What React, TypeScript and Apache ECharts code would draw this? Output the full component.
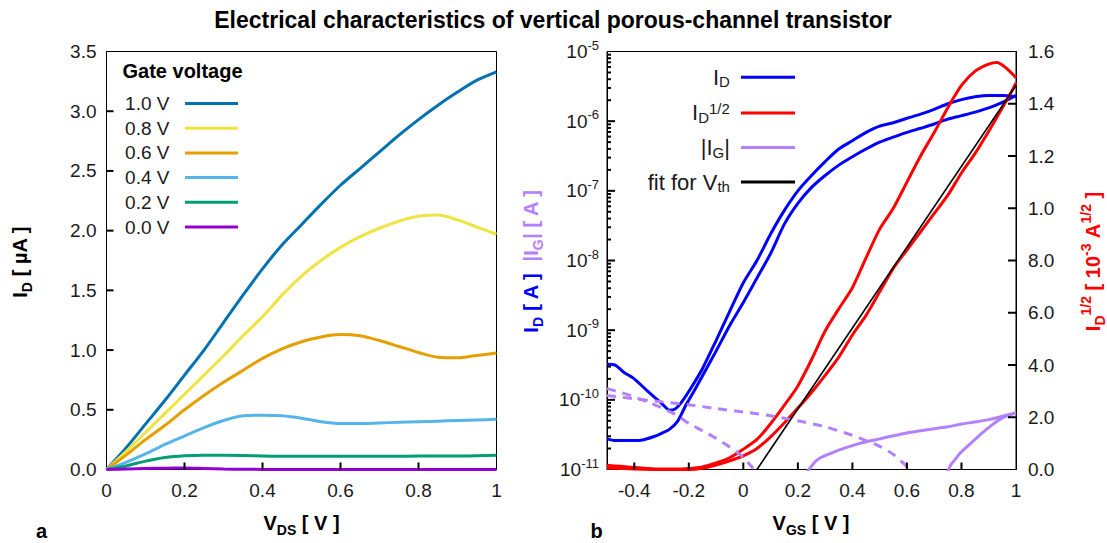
import React, { useEffect, useRef } from 'react';
import * as echarts from 'echarts';

const FONT = '"Liberation Sans", Arial, Helvetica, sans-serif';
const TXT = '#1a1a1a';

// ---------- Panel a : output characteristics ----------
const vdsValues = [0, 0.05, 0.1, 0.15, 0.2, 0.25, 0.3, 0.35, 0.4, 0.45, 0.5, 0.55, 0.6, 0.65, 0.7, 0.75, 0.8, 0.85, 0.9, 0.95, 1.0];
const gateLabels = ['1.0 V', '0.8 V', '0.6 V', '0.4 V', '0.2 V', '0.0 V'];
const gateColors = ['#0072b2', '#f0e442', '#e69f00', '#56b4e9', '#009e73', '#9400d3'];
const idVg10 = [0, 0.18, 0.38, 0.58, 0.79, 1.0, 1.23, 1.46, 1.68, 1.88, 2.05, 2.22, 2.38, 2.52, 2.66, 2.8, 2.93, 3.05, 3.16, 3.26, 3.33];
const idVg08 = [0, 0.15, 0.31, 0.47, 0.63, 0.79, 0.95, 1.12, 1.28, 1.46, 1.62, 1.75, 1.86, 1.95, 2.02, 2.08, 2.12, 2.13, 2.09, 2.03, 1.97];
const idVg06 = [0, 0.12, 0.25, 0.37, 0.5, 0.62, 0.73, 0.83, 0.93, 1.01, 1.07, 1.11, 1.13, 1.12, 1.08, 1.03, 0.98, 0.94, 0.935, 0.955, 0.975];
const idVg04 = [0, 0.06, 0.13, 0.21, 0.28, 0.35, 0.41, 0.45, 0.455, 0.45, 0.43, 0.4, 0.385, 0.385, 0.39, 0.395, 0.4, 0.405, 0.41, 0.415, 0.42];
const idVg02 = [0, 0.03, 0.07, 0.1, 0.115, 0.12, 0.12, 0.118, 0.113, 0.11, 0.11, 0.11, 0.11, 0.11, 0.11, 0.11, 0.112, 0.112, 0.112, 0.115, 0.12];
const idVg00 = [0, 0.004, 0.008, 0.011, 0.012, 0.008, 0.004, 0.002, 0.001, 0, 0, 0, 0, 0, 0, 0, 0, 0, 0, 0, 0];
const gateCurves = [idVg10, idVg08, idVg06, idVg04, idVg02, idVg00];
const leftXTicks = [0, 0.2, 0.4, 0.6, 0.8, 1];
const leftXTickLabels = ['0', '0.2', '0.4', '0.6', '0.8', '1'];
const leftYTicks = [0, 0.5, 1, 1.5, 2, 2.5, 3, 3.5];
const leftYTickLabels = ['0.0', '0.5', '1.0', '1.5', '2.0', '2.5', '3.0', '3.5'];

// ---------- Panel b : transfer characteristics ----------
const vgsFwd = [-0.5, -0.47, -0.43, -0.4, -0.37, -0.33, -0.3, -0.27, -0.24, -0.21, -0.18, -0.15, -0.1, -0.05, 0, 0.05, 0.1, 0.15, 0.2, 0.25, 0.3, 0.35, 0.4, 0.45, 0.5, 0.55, 0.6, 0.65, 0.7, 0.75, 0.8, 0.85, 0.9, 0.95, 1.0];
const idFwd = [2.75e-11, 2.6e-11, 2.6e-11, 2.6e-11, 2.65e-11, 2.95e-11, 3.3e-11, 3.8e-11, 5.0e-11, 8.5e-11, 1.35e-10, 2.2e-10, 5.0e-10, 1.17e-9, 2.5e-9, 5.6e-9, 1.26e-8, 3.3e-8, 6.6e-8, 1.12e-7, 1.66e-7, 2.34e-7, 3.09e-7, 3.98e-7, 5.0e-7, 5.9e-7, 6.9e-7, 7.9e-7, 9.1e-7, 1.07e-6, 1.2e-6, 1.35e-6, 1.55e-6, 1.86e-6, 2.34e-6];
const vgsRev = [-0.5, -0.47, -0.44, -0.4, -0.35, -0.3, -0.27, -0.25, -0.23, -0.2, -0.15, -0.1, -0.05, 0, 0.05, 0.1, 0.15, 0.2, 0.25, 0.3, 0.35, 0.4, 0.45, 0.5, 0.55, 0.6, 0.65, 0.7, 0.75, 0.8, 0.85, 0.9, 0.95, 1.0];
const idRev = [3.24e-10, 3.16e-10, 2.51e-10, 2.0e-10, 1.32e-10, 8.9e-11, 7.1e-11, 7.4e-11, 8.9e-11, 1.32e-10, 2.8e-10, 7.1e-10, 1.86e-9, 4.8e-9, 1.0e-8, 2.4e-8, 5.2e-8, 1.0e-7, 1.66e-7, 2.63e-7, 3.98e-7, 5.25e-7, 6.9e-7, 8.5e-7, 9.5e-7, 1.1e-6, 1.26e-6, 1.48e-6, 1.78e-6, 2.04e-6, 2.24e-6, 2.34e-6, 2.34e-6, 2.24e-6];

const vgsSqrtRev = [-0.5, -0.45, -0.4, -0.35, -0.3, -0.25, -0.2, -0.15, -0.1, -0.05, 0, 0.05, 0.1, 0.15, 0.2, 0.25, 0.3, 0.35, 0.4, 0.45, 0.5, 0.55, 0.6, 0.65, 0.7, 0.75, 0.8, 0.85, 0.9, 0.93, 0.96, 1.0];
const sqrtRev = [0.016, 0.012, 0.008, 0.004, 0.002, 0.002, 0.004, 0.01, 0.025, 0.045, 0.078, 0.115, 0.175, 0.245, 0.32, 0.42, 0.53, 0.615, 0.696, 0.81, 0.92, 1.0, 1.1, 1.2, 1.29, 1.385, 1.47, 1.525, 1.552, 1.558, 1.54, 1.5];
const vgsSqrtFwd = [-0.5, -0.45, -0.4, -0.3, -0.2, -0.15, -0.1, -0.05, 0, 0.05, 0.1, 0.15, 0.2, 0.25, 0.3, 0.35, 0.4, 0.45, 0.5, 0.55, 0.6, 0.65, 0.7, 0.75, 0.8, 0.85, 0.9, 0.95, 0.98, 1.0];
const sqrtFwd = [0.006, 0.004, 0.002, 0, 0, 0.005, 0.017, 0.033, 0.052, 0.08, 0.125, 0.178, 0.235, 0.295, 0.36, 0.43, 0.515, 0.59, 0.68, 0.77, 0.84, 0.91, 0.98, 1.05, 1.135, 1.21, 1.295, 1.385, 1.44, 1.48];

const fitV = [0.05, 1.0];
const fitSqrt = [0, 1.47];

const igRiseAV = [0.232, 0.26, 0.28, 0.32, 0.35, 0.4, 0.45, 0.5, 0.55, 0.6, 0.65, 0.7, 0.75, 0.8, 0.85, 0.9, 0.95, 1.0];
const igRiseA = [9e-12, 1.25e-11, 1.45e-11, 1.7e-11, 1.9e-11, 2.2e-11, 2.5e-11, 2.75e-11, 3.05e-11, 3.35e-11, 3.6e-11, 3.85e-11, 4.1e-11, 4.5e-11, 4.8e-11, 5.2e-11, 5.8e-11, 6.5e-11];
const igRiseBV = [0.748, 0.76, 0.78, 0.8, 0.83, 0.87, 0.91, 0.95, 1.0];
const igRiseB = [9e-12, 1.15e-11, 1.45e-11, 1.8e-11, 2.3e-11, 3.2e-11, 4.3e-11, 5.5e-11, 6.5e-11];
const igFallAV = [-0.5, -0.45, -0.4, -0.35, -0.3, -0.25, -0.2, -0.15, -0.1, -0.05, 0, 0.03, 0.05];
const igFallA = [1.45e-10, 1.28e-10, 1.1e-10, 9.3e-11, 7.7e-11, 6.2e-11, 4.6e-11, 3.6e-11, 2.8e-11, 2.1e-11, 1.5e-11, 1.1e-11, 9e-12];
const igFallBV = [-0.5, -0.4, -0.3, -0.2, -0.1, 0, 0.1, 0.2, 0.3, 0.4, 0.45, 0.5, 0.55, 0.6, 0.62];
const igFallB = [1.15e-10, 1.04e-10, 9.4e-11, 8.5e-11, 7.5e-11, 6.7e-11, 5.9e-11, 5.0e-11, 4.1e-11, 3.1e-11, 2.6e-11, 2.15e-11, 1.65e-11, 1.1e-11, 9e-12];

const rightXTicks = [-0.4, -0.2, 0, 0.2, 0.4, 0.6, 0.8, 1];
const rightXTickLabels = ['-0.4', '-0.2', '0', '0.2', '0.4', '0.6', '0.8', '1'];
const decadeTicks = [1e-11, 1e-10, 1e-9, 1e-8, 1e-7, 1e-6, 1e-5];
const decadeExponents = ['-11', '-10', '-9', '-8', '-7', '-6', '-5'];
const sqrtTicks = [0, 0.2, 0.4, 0.6, 0.8, 1.0, 1.2, 1.4, 1.6];
const sqrtTickLabels = ['0.0', '2.0', '4.0', '6.0', '8.0', '1.0', '1.2', '1.4', '1.6'];

const minorTicks: number[] = [];
for (let k = 0; k < decadeTicks.length - 1; k++) {
  for (let m = 2; m <= 9; m++) minorTicks.push(m * decadeTicks[k]);
}

const BLUE = '#0000ff';
const RED = '#ff0000';
const LAV = '#b380ff';

const pairs = (xs: number[], ys: number[]) => xs.map((x, i) => [x, ys[i]]);
const nearestIdx = (arr: number[], v: number) => {
  let best = 0;
  arr.forEach((t, i) => { if (Math.abs(t - v) < Math.abs(arr[best] - v)) best = i; });
  return best;
};

const axisLineStyle = { show: true, onZero: false, lineStyle: { color: '#000', width: 1 } };
const noTick = { show: false };

const legendRich = {
  t: { fontSize: 22, lineHeight: 24, color: TXT, fontFamily: FONT },
  sb: { fontSize: 15, lineHeight: 13, verticalAlign: 'bottom', color: TXT, fontFamily: FONT },
  sp: { fontSize: 15, lineHeight: 13, verticalAlign: 'top', color: TXT, fontFamily: FONT },
};
const legendNames: Record<string, string> = {
  ID: '{t|I}{sb|D}{t| }',
  ID12: '{t|I}{sb|D}{sp|1/2}{t| }',
  IG: '{t||I}{sb|G}{t|| }',
  fit: '{t|fit for V}{sb|th}{t| }',
};

// graphic (zrender) text uses `fill`
const boldRich = (fill: string) => ({
  b: { fontSize: 20, fontWeight: 'bold', lineHeight: 28, fill, fontFamily: FONT },
  s: { fontSize: 14, fontWeight: 'bold', lineHeight: 14, verticalAlign: 'bottom', fill, fontFamily: FONT },
  p: { fontSize: 14, fontWeight: 'bold', lineHeight: 14, verticalAlign: 'top', fill, fontFamily: FONT },
});

// inward tick marks drawn through the axes' own coordinate system
function tickSeries(xAxisIndex: number, yAxisIndex: number, points: number[][], dx: number, dy: number) {
  return {
    type: 'custom',
    name: '__ticks',
    xAxisIndex,
    yAxisIndex,
    silent: true,
    clip: false,
    z: 5,
    data: points,
    renderItem: (_params: any, api: any) => {
      const p = api.coord([api.value(0), api.value(1)]);
      return {
        type: 'line',
        shape: { x1: p[0], y1: p[1], x2: p[0] + dx, y2: p[1] + dy },
        style: { stroke: '#000', lineWidth: 2 },
      };
    },
  };
}

function buildOption() {
  const leftSeries = gateCurves.map((ys, i) => ({
    name: gateLabels[i],
    type: 'line',
    xAxisIndex: 0,
    yAxisIndex: 0,
    data: pairs(vdsValues, ys),
    symbol: 'none',
    smooth: 0.3,
    lineStyle: { width: 3, color: gateColors[i] },
    itemStyle: { color: gateColors[i] },
  }));

  const rightLine = (name: string, xs: number[], ys: number[], color: string, yAxisIndex: number, extra: any = {}) => ({
    name,
    type: 'line',
    xAxisIndex: 1,
    yAxisIndex,
    data: pairs(xs, ys),
    symbol: 'none',
    smooth: 0.25,
    lineStyle: { width: 3, color, ...(extra.lineStyle || {}) },
    itemStyle: { color },
  });

  const rightSeries = [
    rightLine('ID', vgsFwd, idFwd, BLUE, 1),
    rightLine('ID', vgsRev, idRev, BLUE, 1),
    rightLine('ID12', vgsSqrtFwd, sqrtFwd, RED, 2),
    rightLine('ID12', vgsSqrtRev, sqrtRev, RED, 2),
    rightLine('IG', igRiseAV, igRiseA, LAV, 1),
    rightLine('IG', igRiseBV, igRiseB, LAV, 1),
    rightLine('IG', igFallAV, igFallA, LAV, 1, { lineStyle: { type: [9, 7] } }),
    rightLine('IG', igFallBV, igFallB, LAV, 1, { lineStyle: { type: [9, 7] } }),
    { ...rightLine('fit', fitV, fitSqrt, '#000', 2, { lineStyle: { width: 1.6 } }), smooth: false },
  ];

  const tickSeriesList = [
    tickSeries(0, 0, leftXTicks.slice(1, -1).map((v) => [v, 0]), 0, -7),
    tickSeries(0, 0, leftYTicks.slice(1, -1).map((v) => [0, v]), 7, 0),
    tickSeries(1, 1, rightXTicks.slice(0, -1).map((v) => [v, decadeTicks[0]]), 0, -7),
    tickSeries(1, 1, decadeTicks.slice(1, -1).map((v) => [-0.5, v]), 8, 0),
    tickSeries(1, 1, minorTicks.map((v) => [-0.5, v]), 4, 0),
    tickSeries(1, 2, sqrtTicks.slice(1, -1).map((v) => [1, v]), -8, 0),
  ];

  return {
    animation: false,
    backgroundColor: '#fff',
    textStyle: { fontFamily: FONT },
    grid: [
      { left: 106.5, top: 51.5, width: 390, height: 418, show: true, borderColor: '#000', borderWidth: 1, backgroundColor: 'transparent' },
      { left: 607, top: 51.5, width: 409, height: 418, show: true, borderColor: '#000', borderWidth: 1, backgroundColor: 'transparent' },
    ],
    xAxis: [
      {
        type: 'value', gridIndex: 0, min: 0, max: 1, interval: 0.2,
        axisLine: axisLineStyle,
        axisTick: noTick,
        axisLabel: { fontSize: 19, color: TXT, margin: 11, formatter: (v: number) => leftXTickLabels[nearestIdx(leftXTicks, v)] },
        splitLine: { show: false },
      },
      {
        type: 'value', gridIndex: 1, min: -0.5, max: 1,
        axisLine: axisLineStyle,
        axisTick: noTick,
        axisLabel: { fontSize: 19, color: TXT, margin: 11, customValues: rightXTicks, formatter: (v: number) => rightXTickLabels[nearestIdx(rightXTicks, v)] },
        splitLine: { show: false },
      },
    ],
    yAxis: [
      {
        type: 'value', gridIndex: 0, min: 0, max: 3.5, interval: 0.5,
        axisLine: axisLineStyle,
        axisTick: noTick,
        axisLabel: { fontSize: 19, color: TXT, margin: 10, formatter: (v: number) => leftYTickLabels[nearestIdx(leftYTicks, v)] },
        splitLine: { show: false },
      },
      {
        type: 'log', logBase: 10, gridIndex: 1, min: 1e-11, max: 1e-5, position: 'left',
        axisLine: axisLineStyle,
        axisTick: noTick,
        axisLabel: {
          margin: 8,
          customValues: decadeTicks,
          formatter: (v: number) => `{b|10}{s|${decadeExponents[nearestIdx(decadeTicks.map((d) => Math.log10(d)), Math.log10(v))]}}`,
          rich: {
            b: { fontSize: 19, lineHeight: 26, color: TXT, fontFamily: FONT },
            s: { fontSize: 13, lineHeight: 13, verticalAlign: 'top', color: TXT, fontFamily: FONT },
          },
        },
        splitLine: { show: false },
        minorTick: { show: false },
      },
      {
        type: 'value', gridIndex: 1, min: 0, max: 1.6, interval: 0.2, position: 'right',
        axisLine: axisLineStyle,
        axisTick: noTick,
        axisLabel: { fontSize: 19, color: TXT, margin: 12, formatter: (v: number) => sqrtTickLabels[nearestIdx(sqrtTicks, v)] },
        splitLine: { show: false },
      },
    ],
    legend: [
      {
        data: gateLabels,
        orient: 'vertical',
        align: 'right',
        right: 869,
        top: 93.5,
        padding: 0,
        itemWidth: 53,
        itemHeight: 3,
        itemGap: 4.7,
        icon: 'rect',
        formatter: (name: string) => name + '  ',
        textStyle: { fontSize: 19, lineHeight: 20, color: TXT, fontFamily: FONT },
      },
      {
        data: ['ID', 'ID12', 'IG', 'fit'],
        orient: 'vertical',
        align: 'right',
        right: 312,
        top: 66.3,
        padding: 0,
        itemWidth: 54,
        itemHeight: 3,
        itemGap: 11.6,
        icon: 'rect',
        formatter: (name: string) => legendNames[name],
        textStyle: { fontSize: 22, color: TXT, fontFamily: FONT, rich: legendRich },
      },
    ],
    graphic: [
      {
        type: 'text', x: 553, y: 20,
        style: { text: 'Electrical characteristics of vertical porous-channel transistor', fontSize: 23, fontWeight: 'bold', fontFamily: FONT, fill: '#000', align: 'center', verticalAlign: 'middle' },
      },
      {
        type: 'text', x: 122.5, y: 71,
        style: { text: 'Gate voltage', fontSize: 20, fontWeight: 'bold', fontFamily: FONT, fill: '#000', align: 'left', verticalAlign: 'middle' },
      },
      {
        type: 'text', x: 41.5, y: 531,
        style: { text: 'a', fontSize: 20, fontWeight: 'bold', fontFamily: FONT, fill: '#000', align: 'center', verticalAlign: 'middle' },
      },
      {
        type: 'text', x: 596.5, y: 531,
        style: { text: 'b', fontSize: 20, fontWeight: 'bold', fontFamily: FONT, fill: '#000', align: 'center', verticalAlign: 'middle' },
      },
      {
        type: 'text', x: 301.5, y: 522.5,
        style: { text: '{b|V}{s|DS}{b| [ V ]}', rich: boldRich('#000'), align: 'center', verticalAlign: 'middle' },
      },
      {
        type: 'text', x: 811, y: 522.5,
        style: { text: '{b|V}{s|GS}{b| [ V ]}', rich: boldRich('#000'), align: 'center', verticalAlign: 'middle' },
      },
      {
        type: 'text', x: 19.5, y: 262, rotation: Math.PI / 2,
        style: { text: '{b|I}{s|D}{b| [ µA ]}', rich: boldRich('#000'), align: 'center', verticalAlign: 'middle' },
      },
      {
        type: 'text', x: 530.5, y: 261, rotation: Math.PI / 2,
        style: {
          text: '{b|I}{s|D}{b| [ A ]  }{l||I}{ls|G}{l|| [ A ]}',
          rich: {
            ...boldRich(BLUE),
            l: { fontSize: 20, fontWeight: 'bold', lineHeight: 28, fill: LAV, fontFamily: FONT },
            ls: { fontSize: 14, fontWeight: 'bold', lineHeight: 14, verticalAlign: 'bottom', fill: LAV, fontFamily: FONT },
          },
          align: 'center', verticalAlign: 'middle',
        },
      },
      {
        type: 'text', x: 1093, y: 261.5, rotation: Math.PI / 2,
        style: { text: '{b|I}{s|D}{p|1/2}{b| [ 10}{p|-3}{b| A}{p|1/2}{b| ]}', rich: boldRich(RED), align: 'center', verticalAlign: 'middle' },
      },
    ],
    series: [...leftSeries, ...rightSeries, ...tickSeriesList],
  };
}

export default function App() {
  const ref = useRef<HTMLDivElement>(null);
  useEffect(() => {
    if (!ref.current) return;
    const chart = echarts.init(ref.current, undefined, { renderer: 'svg' });
    chart.setOption(buildOption() as any);
    return () => chart.dispose();
  }, []);
  return <div ref={ref} style={{ position: 'absolute', left: 0, top: 0, width: 1107, height: 543, background: '#fff' }} />;
}
